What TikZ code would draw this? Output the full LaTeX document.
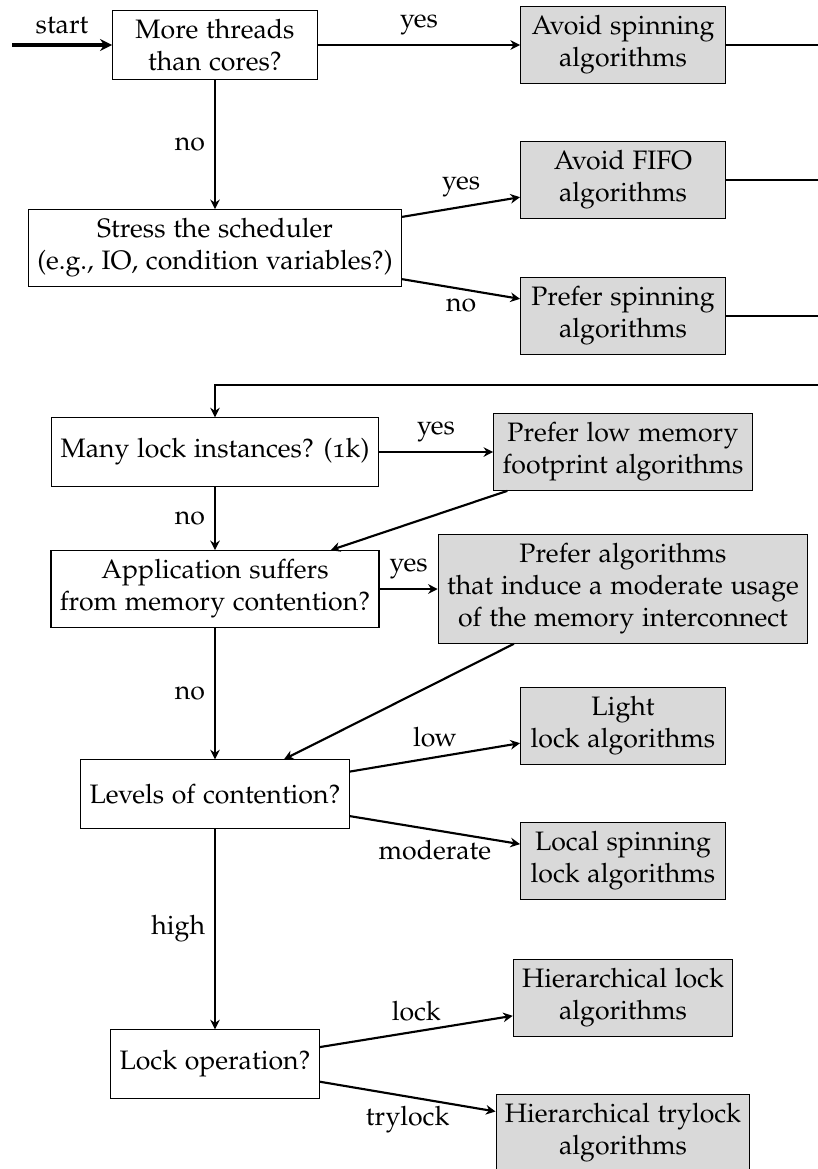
\documentclass[tikz,border=0pt]{standalone}
\usepackage[T1]{fontenc}
\usepackage[osf]{mathpazo}
\usepackage{tikz}
\usetikzlibrary{arrows.meta}

\begin{document}
\begin{tikzpicture}[
  x=0.375pt, y=-0.375pt,
  question/.style={draw, thin, align=center, minimum width=2.7cm, minimum height=0.9cm},
  advice/.style={question, fill=gray!30},
  arr/.style={-{Stealth[length=3.6pt, width=3.6pt]}, thick},
  lnk/.style={thick}
]
  \useasboundingbox (0,0) rectangle (818,1169);

  % Questions (left column)
  \node[question] (threads) at (215,45) {More threads\\than cores?};
  \node[question] (sched) at (215,248) {Stress the scheduler\\(e.g., IO, condition variables?)};
  \node[question] (many) at (215,452) {Many lock instances? (1k)};
  \node[question] (memcont) at (215,589) {Application suffers\\from memory contention?};
  \node[question] (levels) at (215,794) {Levels of contention?};
  \node[question] (lockop) at (215,1064) {Lock operation?};

  % Advice (right column)
  \node[advice] (avoidspin) at (623,45) {Avoid spinning\\algorithms};
  \node[advice] (avoidfifo) at (623,180) {Avoid FIFO\\algorithms};
  \node[advice] (preferspin) at (623,316) {Prefer spinning\\algorithms};
  \node[advice] (lowmem) at (623,452) {Prefer low memory\\footprint algorithms};
  \node[advice] (moderate) at (623,589) {Prefer algorithms\\that induce a moderate usage\\of the memory interconnect};
  \node[advice] (light) at (623,726) {Light\\lock algorithms};
  \node[advice] (localspin) at (623,861) {Local spinning\\lock algorithms};
  \node[advice] (hierlock) at (623,998) {Hierarchical lock\\algorithms};
  \node[advice] (hiertry) at (623,1133) {Hierarchical trylock\\algorithms};

  % Free ends at the right border
  \coordinate (in) at (12,45);
  \coordinate (outA) at (818,45);
  \coordinate (outB) at (818,180);
  \coordinate (outC) at (818,316);
  \coordinate (loopR) at (818,385);
  \coordinate (loopL) at (215,385);

  % Entry
  \draw[-{Stealth[length=4.5pt, width=4.5pt]}, line width=1.5pt] (in) -- node[above] {start} (threads);

  % First block
  \draw[arr] (threads) -- node[above] {yes} (avoidspin);
  \draw[arr] (threads) -- node[left] {no} (sched);
  \draw[arr] (sched) -- node[above] {yes} (avoidfifo);
  \draw[arr] (sched) -- node[below] {no} (preferspin);
  \draw[lnk] (avoidspin) -- (outA);
  \draw[lnk] (avoidfifo) -- (outB);
  \draw[lnk] (preferspin) -- (outC);

  % Second block
  \draw[arr] (loopR) -- (loopL) -- (many);
  \draw[arr] (many) -- node[above] {yes} (lowmem);
  \draw[arr] (many) -- node[left] {no} (memcont);
  \draw[arr] (lowmem) -- (memcont);
  \draw[arr] (memcont) -- node[above] {yes} (moderate);
  \draw[arr] (memcont) -- node[left] {no} (levels);
  \draw[arr] (moderate) -- (levels);
  \draw[arr] (levels) -- node[above] {low} (light);
  \draw[arr] (levels) -- node[below] {moderate} (localspin);
  \draw[arr] (levels) -- node[left] {high} (lockop);
  \draw[arr] (lockop) -- node[above] {lock} (hierlock);
  \draw[arr] (lockop) -- node[below] {trylock} (hiertry);
\end{tikzpicture}
\end{document}
